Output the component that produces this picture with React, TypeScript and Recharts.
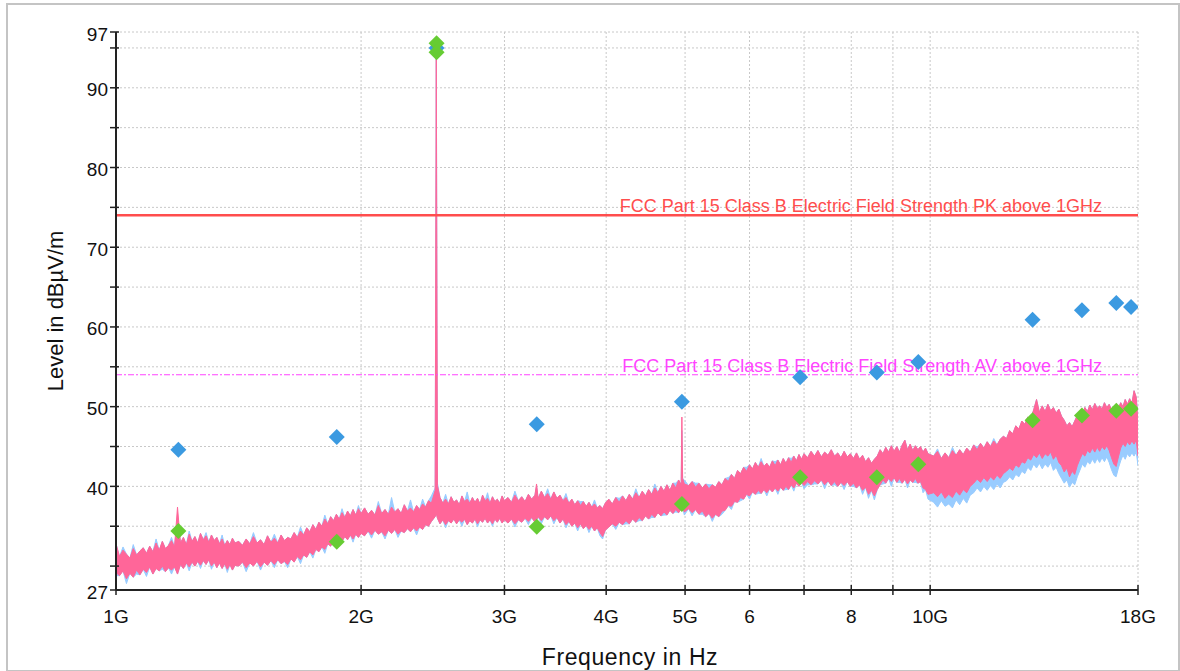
import React from 'react';
import { ComposedChart, Area, Scatter, XAxis, YAxis, CartesianGrid, ReferenceLine } from 'recharts';

// Sweep frequencies in GHz
const FREQ = [
  1.00, 1.01, 1.02, 1.03, 1.04, 1.05, 1.06, 1.07, 1.08, 1.09, 1.10, 1.11, 1.12, 1.13, 1.14, 1.15, 1.16, 1.17, 1.18, 1.19,
  1.20, 1.21, 1.22, 1.23, 1.24, 1.25, 1.26, 1.27, 1.28, 1.29, 1.30, 1.31, 1.32, 1.33, 1.34, 1.35, 1.36, 1.37, 1.38, 1.39, 1.40,
  1.415, 1.43, 1.445, 1.46, 1.475, 1.49, 1.505, 1.52, 1.535, 1.55, 1.565, 1.58, 1.595, 1.61, 1.625, 1.64, 1.655, 1.67, 1.685, 1.70,
  1.715, 1.73, 1.745, 1.76, 1.775, 1.79, 1.805, 1.82, 1.835, 1.85, 1.865, 1.88, 1.895, 1.91, 1.925, 1.94, 1.955, 1.97, 1.985, 2.00,
  2.02, 2.04, 2.06, 2.08, 2.10, 2.12, 2.14, 2.16, 2.18, 2.20, 2.22, 2.24, 2.26, 2.28, 2.30, 2.32, 2.34, 2.36, 2.38, 2.40, 2.42, 2.44,
  2.466, 2.474, 2.482,
  2.50, 2.52, 2.54, 2.56, 2.58, 2.60, 2.62, 2.64, 2.66, 2.68, 2.70, 2.72, 2.74, 2.76, 2.78, 2.80, 2.82, 2.84, 2.86, 2.88, 2.90, 2.92, 2.94, 2.96, 2.98, 3.00,
  3.03, 3.06, 3.09, 3.12, 3.15, 3.18, 3.21, 3.24, 3.27, 3.285, 3.30, 3.33, 3.36, 3.39, 3.42, 3.45, 3.48, 3.51, 3.54, 3.57,
  3.60, 3.63, 3.66, 3.69, 3.72, 3.75, 3.78, 3.81, 3.84, 3.87, 3.90, 3.93, 3.96, 3.99,
  4.03, 4.07, 4.11, 4.15, 4.19, 4.23, 4.27, 4.31, 4.35, 4.39, 4.43, 4.47, 4.51, 4.55, 4.59, 4.63, 4.67, 4.71, 4.75, 4.79,
  4.83, 4.87, 4.91, 4.945, 4.955, 4.965, 4.99,
  5.05, 5.10, 5.15, 5.20, 5.25, 5.30, 5.35, 5.40, 5.45, 5.50, 5.55, 5.60, 5.65, 5.70, 5.75, 5.80, 5.85, 5.90, 5.95, 6.00,
  6.05, 6.10, 6.15, 6.20, 6.25, 6.30, 6.35, 6.40, 6.45, 6.50, 6.55, 6.60, 6.65, 6.70, 6.75, 6.80, 6.85, 6.90, 6.95, 7.00,
  7.07, 7.14, 7.21, 7.28, 7.35, 7.42, 7.49, 7.56, 7.63, 7.70, 7.77, 7.84, 7.91, 7.98, 8.05, 8.12, 8.19, 8.26, 8.33, 8.40,
  8.47, 8.54, 8.61, 8.68, 8.75, 8.82, 8.89, 8.96, 9.03, 9.10, 9.17, 9.24, 9.31, 9.38, 9.45, 9.52, 9.59, 9.66, 9.73, 9.80, 9.87, 9.94,
  10.10, 10.21, 10.32, 10.43, 10.54, 10.65, 10.76, 10.87, 10.98, 11.09, 11.20, 11.31, 11.42, 11.53, 11.64, 11.75, 11.86, 11.97, 12.08, 12.19,
  12.30, 12.41, 12.52, 12.63, 12.74, 12.85, 12.96, 13.07, 13.18, 13.29, 13.40, 13.51, 13.62, 13.73, 13.84, 13.95, 14.06, 14.17, 14.28, 14.39,
  14.50, 14.61, 14.72, 14.83, 14.94, 15.05, 15.16, 15.27, 15.38, 15.49, 15.60, 15.71, 15.82, 15.93, 16.04, 16.15, 16.26, 16.37, 16.48, 16.59,
  16.70, 16.81, 16.92, 17.03, 17.14, 17.25, 17.36, 17.47, 17.58, 17.69, 17.80, 17.91, 18.00,
];

// Average trace (pink): lower / upper envelope, dBµV/m
const PINK_LO = [
  29.2, 28.8, 29.4, 28.4, 29.1, 28.6, 29.5, 28.9, 29.6, 29.2, 29.9, 29.0, 29.7, 29.4, 30.0, 29.3, 29.8, 29.5, 29.9, 29.0,
  30.2, 29.7, 30.4, 29.9, 30.5, 30.0, 30.6, 30.1, 30.7, 30.2, 30.8, 30.0, 30.5, 29.8, 30.4, 29.7, 30.3, 29.6, 30.2, 29.5, 30.1,
  30.0, 30.5, 29.8, 30.4, 30.0, 30.6, 29.9, 30.5, 30.1, 30.7, 30.2, 30.8, 30.3, 30.6, 30.2, 30.9, 30.5, 31.2, 30.8, 31.4,
  31.1, 31.8, 31.4, 32.1, 31.8, 32.4, 32.1, 32.8, 32.5, 33.2, 32.9, 33.5, 33.1, 33.7, 33.3, 33.9, 33.4, 34.0, 33.6, 34.1,
  33.8, 34.4, 33.9, 34.5, 34.0, 34.3, 33.8, 34.5, 34.1, 34.6, 34.0, 34.4, 34.2, 34.7, 34.3, 34.8, 34.4, 34.9, 34.6, 35.2, 35.0, 35.6,
  36.2, 36.6, 36.0,
  35.3, 35.8, 35.2, 35.7, 35.4, 35.9, 35.3, 35.8, 35.5, 35.9, 35.2, 35.7, 35.4, 35.9, 35.3, 35.8, 35.5, 36.0, 35.4, 35.8, 35.3, 35.9, 35.5, 36.0, 35.4, 35.8,
  35.4, 35.9, 35.3, 35.8, 35.5, 36.0, 35.6, 36.1, 35.5, 35.8, 36.2, 35.7, 36.2, 35.8, 36.3, 35.7, 36.1, 35.4, 35.9, 35.2,
  35.6, 35.0, 35.4, 34.8, 35.3, 34.7, 35.1, 34.6, 35.0, 34.4, 34.8, 34.2, 33.7, 34.5,
  34.9, 35.3, 35.0, 35.5, 35.2, 35.7, 35.3, 35.9, 35.5, 36.1, 35.7, 36.3, 35.9, 36.5, 36.1, 36.7, 36.3, 36.8, 36.4, 37.0,
  36.6, 37.1, 36.7, 37.2, 37.0, 37.3, 36.8,
  37.2, 36.7, 37.1, 36.5, 36.9, 36.2, 36.6, 36.0, 36.5, 36.2, 36.9, 37.0, 37.6, 37.5, 38.1, 38.0, 38.6, 38.4, 39.0, 38.8,
  39.3, 39.0, 39.5, 39.1, 39.6, 39.2, 39.7, 39.3, 39.8, 39.4, 39.9, 39.5, 40.0, 39.6, 40.2, 39.8, 40.4, 40.0, 40.5, 40.1,
  40.6, 40.2, 40.7, 40.3, 40.8, 40.2, 40.7, 40.1, 40.6, 40.0, 40.5, 40.1, 40.6, 40.0, 40.4, 39.8, 40.2, 39.5, 39.9, 39.0,
  39.5, 38.8, 39.6, 40.2, 40.8, 40.4, 41.0, 40.6, 41.1, 40.5, 41.0, 40.4, 40.9, 40.3, 40.8, 40.5, 41.0, 40.4, 40.6, 39.8, 39.6, 39.0,
  39.2, 38.7, 39.3, 38.5, 39.0, 38.6, 39.4, 38.9, 39.6, 39.2, 40.0, 40.4, 40.9, 40.5, 41.1, 40.6, 41.2, 40.8, 41.4, 41.0,
  41.6, 41.9, 42.3, 42.0, 42.7, 42.4, 43.1, 42.9, 43.6, 43.3, 44.0, 43.6, 44.2, 43.5, 44.1, 43.8, 44.3, 43.4, 43.9, 43.0,
  42.6, 41.8, 42.3, 41.2, 41.9, 41.5, 42.6, 43.4, 44.1, 43.8, 44.5, 44.2, 44.8, 44.3, 44.9, 44.4, 45.0, 44.6, 45.1, 44.5,
  43.6, 42.8, 42.5, 43.7, 44.8, 45.4, 45.0, 45.6, 45.2, 45.7, 45.3, 45.8, 43.8,
];
const PINK_HI = [
  32.8, 31.2, 32.0, 31.5, 31.0, 32.2, 31.4, 31.9, 32.3, 31.6, 32.5, 31.8, 32.9, 32.0, 33.1, 32.2, 32.6, 33.2, 32.4, 37.4,
  32.9, 33.6, 32.7, 34.0, 33.1, 33.7, 32.9, 34.1, 33.3, 33.8, 33.0, 33.9, 33.2, 33.6, 32.8, 33.4, 32.6, 33.2, 32.7, 33.5, 32.9,
  33.1, 32.6, 33.4, 32.8, 33.7, 32.9, 33.3, 32.7, 33.8, 33.0, 33.5, 32.9, 33.9, 33.2, 33.6, 33.4, 34.2, 33.6, 34.4, 33.9,
  34.8, 34.3, 35.2, 34.6, 35.5, 35.0, 35.9, 35.3, 36.2, 35.7, 36.5, 35.9, 36.7, 36.1, 36.9, 36.3, 37.1, 36.4, 37.2, 36.6,
  37.3, 36.5, 37.0, 36.4, 37.6, 36.6, 37.1, 36.5, 37.4, 36.8, 37.2, 36.6, 37.7, 36.9, 37.3, 36.8, 37.6, 37.1, 37.8, 37.4, 38.2, 37.9,
  39.5, 94.6, 40.1,
  38.6, 37.9, 38.4, 37.8, 38.7, 38.0, 38.3, 37.7, 38.8, 38.1, 38.4, 37.9, 38.6, 38.0, 38.5, 37.8, 38.9, 38.2, 38.5, 37.9, 38.7, 38.1, 38.4, 37.9, 38.8, 38.2,
  38.6, 38.0, 38.9, 38.2, 38.7, 38.1, 39.0, 38.4, 38.9, 40.3, 38.5, 39.4, 38.6, 39.1, 38.4, 39.3, 38.5, 38.9, 38.2, 38.6,
  37.9, 38.4, 37.7, 38.2, 37.6, 38.1, 37.5, 38.0, 37.4, 37.8, 37.3, 37.6, 37.2, 37.9,
  38.4, 37.8, 38.6, 38.0, 38.8, 38.2, 39.0, 38.4, 39.2, 38.6, 39.4, 38.8, 39.6, 39.0, 39.8, 39.2, 40.0, 39.4, 40.2, 39.5,
  40.4, 39.8, 40.8, 40.2, 48.7, 41.0, 40.3,
  40.1, 40.6, 39.9, 40.4, 39.8, 40.3, 39.7, 40.2, 39.9, 40.6, 40.2, 41.0, 40.6, 41.5, 41.0, 42.0, 41.6, 42.4, 41.9, 42.7,
  42.2, 43.0, 42.4, 43.1, 42.5, 42.9, 42.4, 43.2, 42.6, 43.3, 42.7, 43.5, 42.9, 43.6, 43.0, 43.8, 43.2, 44.0, 43.4, 44.1,
  43.6, 44.4, 43.8, 44.5, 43.7, 44.3, 43.9, 44.6, 43.8, 44.2, 43.6, 44.4, 43.7, 44.1, 43.5, 44.2, 43.4, 43.9, 43.1, 43.6,
  42.9, 43.4, 43.8, 44.6, 44.1, 44.9, 44.3, 45.1, 44.4, 45.0, 44.3, 45.2, 45.8, 44.6, 45.3, 44.5, 45.1, 44.6, 45.0, 44.3, 44.8, 44.1,
  43.8, 44.4, 43.5, 44.2, 43.6, 44.5, 43.9, 44.6, 44.0, 44.8, 44.3, 45.2, 44.6, 45.4, 44.8, 45.6, 45.0, 45.7, 45.2, 45.9,
  46.3, 46.0, 47.0, 46.6, 47.6, 47.2, 48.2, 47.8, 48.7, 48.4, 49.6, 50.9, 49.3, 50.1, 49.4, 50.3, 49.5, 49.9, 49.2, 49.7,
  48.8, 48.3, 47.6, 48.0, 47.5, 48.2, 48.9, 49.4, 49.0, 49.9, 49.4, 50.2, 49.6, 50.4, 49.8, 50.1, 49.7, 50.5, 49.9, 50.3,
  49.6, 48.9, 49.3, 49.8, 50.5, 50.0, 50.9, 50.3, 51.0, 50.4, 52.0, 51.2, 48.0,
];

// Peak trace (light blue): lower / upper envelope, dBµV/m
const BLUE_LO = [
  28.8, 28.8, 29.4, 27.8, 29.1, 28.6, 29.0, 28.9, 29.6, 28.7, 29.9, 29.0, 29.7, 29.4, 29.6, 29.3, 29.8, 29.0, 29.9, 29.0,
  30.2, 29.7, 30.4, 29.4, 30.5, 30.0, 30.6, 29.7, 30.7, 30.2, 30.8, 29.6, 30.5, 29.8, 30.4, 29.7, 30.3, 29.2, 30.2, 29.5, 30.1,
  30.0, 30.5, 29.3, 30.4, 30.0, 30.6, 29.5, 30.5, 30.1, 30.7, 29.8, 30.8, 30.3, 30.6, 29.8, 30.9, 30.5, 31.2, 30.3, 31.4,
  31.1, 31.8, 31.0, 32.1, 31.8, 32.4, 31.6, 32.8, 32.5, 33.2, 32.5, 33.5, 33.1, 33.7, 33.3, 33.9, 33.0, 34.0, 33.6, 34.1,
  33.8, 34.4, 33.5, 34.5, 34.0, 34.3, 33.4, 34.5, 34.1, 34.6, 33.6, 34.4, 34.2, 34.7, 34.3, 34.8, 33.9, 34.9, 34.6, 35.2, 35.0, 35.6,
  36.2, 36.6, 36.0,
  35.3, 35.8, 34.8, 35.7, 35.4, 35.9, 35.3, 35.8, 35.0, 35.9, 35.2, 35.7, 35.4, 35.9, 34.9, 35.8, 35.5, 36.0, 35.4, 35.8, 35.0, 35.9, 35.5, 36.0, 35.4, 35.8,
  35.4, 35.9, 34.9, 35.8, 35.5, 36.0, 35.2, 36.1, 35.5, 35.8, 36.2, 35.3, 36.2, 35.8, 36.3, 35.3, 36.1, 35.4, 35.9, 34.8,
  35.6, 35.0, 35.4, 34.4, 35.3, 34.7, 35.1, 34.2, 35.0, 34.4, 34.8, 33.8, 33.4, 34.5,
  34.9, 35.3, 34.6, 35.5, 35.2, 35.3, 35.3, 35.9, 35.5, 35.7, 35.7, 36.3, 35.9, 36.1, 36.1, 36.7, 36.3, 36.4, 36.4, 37.0,
  36.6, 36.8, 36.7, 37.2, 37.0, 37.3, 36.4,
  37.2, 36.3, 37.1, 36.5, 36.5, 36.2, 36.6, 35.6, 36.5, 36.2, 36.5, 37.0, 37.6, 37.1, 38.1, 38.0, 38.2, 38.4, 39.0, 38.4,
  39.3, 39.0, 39.1, 39.1, 39.6, 38.8, 39.7, 39.3, 39.8, 39.0, 39.9, 39.5, 39.6, 39.6, 40.2, 39.4, 40.4, 40.0, 40.5, 39.7,
  40.2, 40.2, 40.3, 40.3, 40.8, 39.7, 40.7, 40.1, 40.2, 40.0, 40.5, 39.6, 40.6, 40.0, 40.0, 39.8, 40.2, 39.0, 39.9, 38.5,
  39.5, 38.3, 39.6, 40.2, 40.3, 40.4, 41.0, 40.0, 41.1, 40.5, 40.5, 40.4, 40.9, 39.8, 40.8, 40.5, 40.5, 40.4, 40.6, 39.2, 39.6, 38.4,
  38.0, 37.4, 38.2, 37.5, 37.8, 37.3, 38.3, 37.7, 38.5, 37.9, 38.9, 39.2, 39.8, 39.3, 40.0, 39.5, 40.1, 39.6, 40.3, 39.8,
  40.5, 40.7, 41.2, 40.8, 41.5, 41.2, 41.9, 41.6, 42.4, 42.0, 42.8, 42.3, 42.9, 42.2, 42.8, 42.4, 43.0, 42.0, 42.4, 41.6,
  41.0, 40.4, 40.8, 39.9, 40.5, 40.2, 41.2, 42.0, 42.8, 42.4, 43.1, 42.8, 43.4, 42.9, 43.5, 43.0, 43.6, 43.1, 43.7, 43.0,
  42.1, 41.4, 41.2, 42.3, 43.2, 43.9, 43.4, 44.1, 43.7, 44.2, 43.8, 44.3, 42.6,
];
const BLUE_HI = [
  32.8, 31.2, 32.4, 31.5, 31.0, 32.7, 31.4, 31.9, 32.3, 31.6, 32.5, 31.8, 33.4, 32.0, 33.1, 32.2, 32.6, 33.6, 32.4, 36.0,
  32.9, 33.6, 32.7, 34.4, 33.1, 33.7, 32.9, 34.1, 33.3, 34.2, 33.0, 33.9, 33.2, 33.6, 32.8, 33.9, 32.6, 33.2, 32.7, 33.5, 32.9,
  33.1, 32.6, 33.4, 32.8, 34.2, 32.9, 33.3, 32.7, 33.8, 33.0, 34.0, 32.9, 33.9, 33.2, 33.6, 33.4, 34.2, 33.6, 34.9, 33.9,
  34.8, 34.3, 35.2, 34.6, 35.5, 35.0, 36.4, 35.3, 36.2, 35.7, 36.5, 35.9, 37.2, 36.1, 36.9, 36.3, 37.1, 36.4, 37.6, 36.6,
  37.3, 36.5, 37.0, 36.4, 38.1, 36.6, 37.1, 36.5, 38.6, 36.8, 37.2, 36.6, 37.7, 36.9, 38.3, 36.8, 37.6, 37.1, 38.4, 37.4, 38.2, 38.8,
  39.8, 95.0, 40.4,
  38.6, 37.9, 39.0, 37.8, 38.7, 38.0, 38.3, 37.7, 38.8, 38.1, 39.3, 37.9, 38.6, 38.0, 38.5, 37.8, 38.9, 38.2, 39.2, 37.9, 38.7, 38.1, 38.4, 37.9, 38.8, 38.2,
  38.6, 38.0, 39.4, 38.2, 38.7, 38.1, 39.0, 38.4, 38.9, 40.0, 38.5, 39.4, 38.6, 39.7, 38.4, 39.3, 38.5, 38.9, 38.2, 39.1,
  37.9, 38.4, 37.7, 38.2, 38.1, 38.1, 37.5, 38.0, 37.4, 38.3, 37.3, 37.6, 37.2, 37.9,
  38.4, 37.8, 38.6, 38.5, 38.8, 38.2, 39.0, 38.4, 39.7, 38.6, 39.4, 38.8, 39.6, 39.0, 40.3, 39.2, 40.0, 39.4, 40.2, 39.5,
  40.4, 40.4, 40.8, 40.2, 47.0, 41.0, 40.8,
  40.1, 40.6, 40.4, 40.4, 39.8, 40.3, 40.2, 40.2, 39.9, 40.6, 40.2, 41.0, 41.1, 41.5, 41.0, 42.0, 41.6, 42.4, 42.4, 42.7,
  42.2, 43.0, 42.4, 43.5, 42.5, 42.9, 42.4, 43.2, 43.1, 43.3, 42.7, 43.5, 42.9, 43.6, 43.5, 43.8, 43.2, 44.0, 43.4, 44.1,
  43.6, 44.4, 43.8, 44.5, 43.7, 44.3, 43.9, 44.6, 43.8, 44.2, 43.6, 44.4, 43.7, 44.1, 43.5, 44.2, 43.4, 43.9, 43.1, 43.6,
  42.9, 43.4, 43.8, 44.6, 44.1, 44.9, 44.3, 45.1, 44.4, 45.0, 44.3, 45.2, 45.8, 44.6, 45.3, 44.5, 45.1, 44.6, 45.0, 44.3, 44.8, 44.1,
  43.8, 44.7, 43.5, 44.2, 43.6, 44.9, 43.9, 44.6, 44.0, 44.8, 44.3, 45.2, 44.9, 45.4, 44.8, 45.6, 45.0, 46.0, 45.2, 45.9,
  46.3, 46.0, 47.0, 46.6, 47.6, 47.2, 48.2, 47.8, 48.7, 48.4, 49.6, 50.9, 49.3, 50.1, 49.4, 50.3, 49.5, 49.9, 49.2, 49.7,
  48.8, 48.3, 47.6, 48.0, 47.5, 48.2, 48.9, 49.4, 49.0, 49.9, 49.4, 50.2, 49.6, 50.4, 49.8, 50.1, 49.7, 50.5, 49.9, 50.3,
  49.6, 48.9, 49.3, 49.8, 50.5, 50.0, 50.9, 50.3, 51.0, 50.4, 52.0, 51.2, 48.3,
];

// Final measurement points (GHz, dBµV/m)
const PK_FREQ = [1.193, 1.867, 2.476, 3.287, 4.955, 6.923, 8.60, 9.67, 13.36, 15.36, 16.93, 17.65];
const PK_LEVEL = [44.6, 46.2, 95.0, 47.8, 50.6, 53.7, 54.3, 55.6, 60.9, 62.1, 63.0, 62.5];
const AV_FREQ = [1.193, 1.867, 2.476, 2.476, 3.287, 4.955, 6.923, 8.60, 9.67, 13.36, 15.36, 16.93, 17.65];
const AV_LEVEL = [34.4, 33.05, 95.6, 94.45, 34.93, 37.78, 41.13, 41.13, 42.76, 48.3, 48.9, 49.5, 49.74];

// Limits
const LIMIT_PK = 74;
const LIMIT_AV = 54;
const LIMIT_PK_LABEL = 'FCC Part 15 Class B Electric Field Strength PK above 1GHz';
const LIMIT_AV_LABEL = 'FCC Part 15 Class B Electric Field Strength AV above 1GHz';

// Axes
const X_TICKS = [1, 2, 3, 4, 5, 6, 7, 8, 9, 10, 18];
const X_TICK_LABELS = ['1G', '2G', '3G', '4G', '5G', '6', '', '8', '', '10G', '18G'];
const Y_TICKS = [27, 30, 35, 40, 45, 50, 55, 60, 65, 70, 75, 80, 85, 90, 95, 97];
const Y_TICK_LABELS = ['27', '', '', '40', '', '50', '', '60', '', '70', '', '80', '', '90', '', '97'];

const traceRows = FREQ.map((f, i) => ({
  f,
  pink: [PINK_LO[i], PINK_HI[i]],
  blue: [BLUE_LO[i], BLUE_HI[i]],
}));
const pkRows = PK_FREQ.map((f, i) => ({ f, v: PK_LEVEL[i] }));
const avRows = AV_FREQ.map((f, i) => ({ f, v: AV_LEVEL[i] }));

const FONT = '"Liberation Sans", Arial, Helvetica, sans-serif';
const AXIS_COLOR = '#222';

const diamond = (color: string) => (props: any) => {
  const { cx, cy } = props;
  if (cx == null || cy == null) return <g />;
  const r = 8;
  return (
    <polygon
      points={`${cx},${cy - r} ${cx + r},${cy} ${cx},${cy + r} ${cx - r},${cy}`}
      fill={color}
    />
  );
};

const XTick = (props: any) => {
  const { x, y, payload } = props;
  const i = X_TICKS.indexOf(payload.value);
  return (
    <g>
      <line x1={x} x2={x} y1={y - 10} y2={y} stroke={AXIS_COLOR} strokeWidth={1.5} />
      <text x={x} y={y + 21} textAnchor="middle" dominantBaseline="central" fontFamily={FONT} fontSize={19} fill="#111">
        {X_TICK_LABELS[i]}
      </text>
    </g>
  );
};

const YTick = (props: any) => {
  const { x, y, payload } = props;
  const i = Y_TICKS.indexOf(payload.value);
  return (
    <g>
      <line x1={x} x2={x + 9} y1={y} y2={y} stroke={AXIS_COLOR} strokeWidth={1.5} />
      <text x={x - 2} y={y + 2} textAnchor="end" dominantBaseline="central" fontFamily={FONT} fontSize={19} fill="#111">
        {Y_TICK_LABELS[i]}
      </text>
    </g>
  );
};

const limitLabel = (text: string, color: string) => (props: any) => {
  const vb = props.viewBox || {};
  return (
    <text
      x={(vb.x || 0) + (vb.width || 0) - 36}
      y={(vb.y || 0) - 9}
      textAnchor="end"
      dominantBaseline="central"
      fontFamily={FONT}
      fontSize={18}
      fill={color}
    >
      {text}
    </text>
  );
};

export default function App() {
  return (
    <div style={{ position: 'absolute', left: 0, top: 0, width: 1180, height: 671, background: '#fff' }}>
      <div
        style={{
          position: 'absolute',
          left: 6,
          top: 3,
          width: 1170,
          height: 665,
          border: '2px solid #c4c4c4',
        }}
      />
      <div style={{ position: 'absolute', left: 0, top: 0 }}>
        <ComposedChart width={1180} height={671} data={traceRows} margin={{ top: 32, right: 42, bottom: 0, left: 0 }}>
          <CartesianGrid stroke="#c8c8c8" strokeDasharray="2 2" strokeWidth={1} />
          <XAxis
            dataKey="f"
            type="number"
            scale="log"
            domain={[1, 18]}
            ticks={X_TICKS}
            interval={0}
            allowDataOverflow
            height={81}
            tickSize={5}
            tickMargin={0}
            tickLine={false}
            axisLine={{ stroke: AXIS_COLOR, strokeWidth: 2 }}
            tick={<XTick />}
            label={{
              content: (p: any) => {
                const vb = p.viewBox || {};
                return (
                  <text
                    x={(vb.x || 0) + (vb.width || 0) / 2 + 3}
                    y={657}
                    textAnchor="middle"
                    dominantBaseline="central"
                    fontFamily={FONT}
                    fontSize={23}
                    letterSpacing={0.6}
                    fill="#111"
                  >
                    Frequency in Hz
                  </text>
                );
              },
            }}
          />
          <YAxis
            type="number"
            domain={[27, 97]}
            ticks={Y_TICKS}
            interval={0}
            allowDataOverflow
            width={116}
            tickSize={6}
            tickMargin={0}
            tickLine={false}
            axisLine={{ stroke: AXIS_COLOR, strokeWidth: 2 }}
            tick={<YTick />}
            label={{
              content: (p: any) => {
                const vb = p.viewBox || {};
                const cy = (vb.y || 0) + (vb.height || 0) / 2;
                return (
                  <text
                    x={55}
                    y={cy}
                    transform={`rotate(-90, 55, ${cy})`}
                    textAnchor="middle"
                    dominantBaseline="central"
                    fontFamily={FONT}
                    fontSize={22}
                    fill="#111"
                  >
                    Level in dBµV/m
                  </text>
                );
              },
            }}
          />
          <ReferenceLine
            y={LIMIT_PK}
            stroke="#ff4d4d"
            strokeWidth={2.5}
            label={{ content: limitLabel(LIMIT_PK_LABEL, '#ff4d4d') }}
          />
          <ReferenceLine
            y={LIMIT_AV}
            stroke="#ff44ff"
            strokeWidth={1.2}
            strokeDasharray="6 2 2 2"
            label={{ content: limitLabel(LIMIT_AV_LABEL, '#ff44ff') }}
          />
          <Area
            dataKey="blue"
            type="linear"
            fill="#99ccff"
            fillOpacity={1}
            stroke="#99ccff"
            strokeWidth={1}
            isAnimationActive={false}
            dot={false}
            activeDot={false}
          />
          <Area
            dataKey="pink"
            type="linear"
            fill="#ff6699"
            fillOpacity={1}
            stroke="#ff6699"
            strokeWidth={1}
            isAnimationActive={false}
            dot={false}
            activeDot={false}
          />
          <Scatter data={pkRows} dataKey="v" shape={diamond('#3b9ae1')} isAnimationActive={false} />
          <Scatter data={avRows} dataKey="v" shape={diamond('#66cc33')} isAnimationActive={false} />
        </ComposedChart>
      </div>
    </div>
  );
}
